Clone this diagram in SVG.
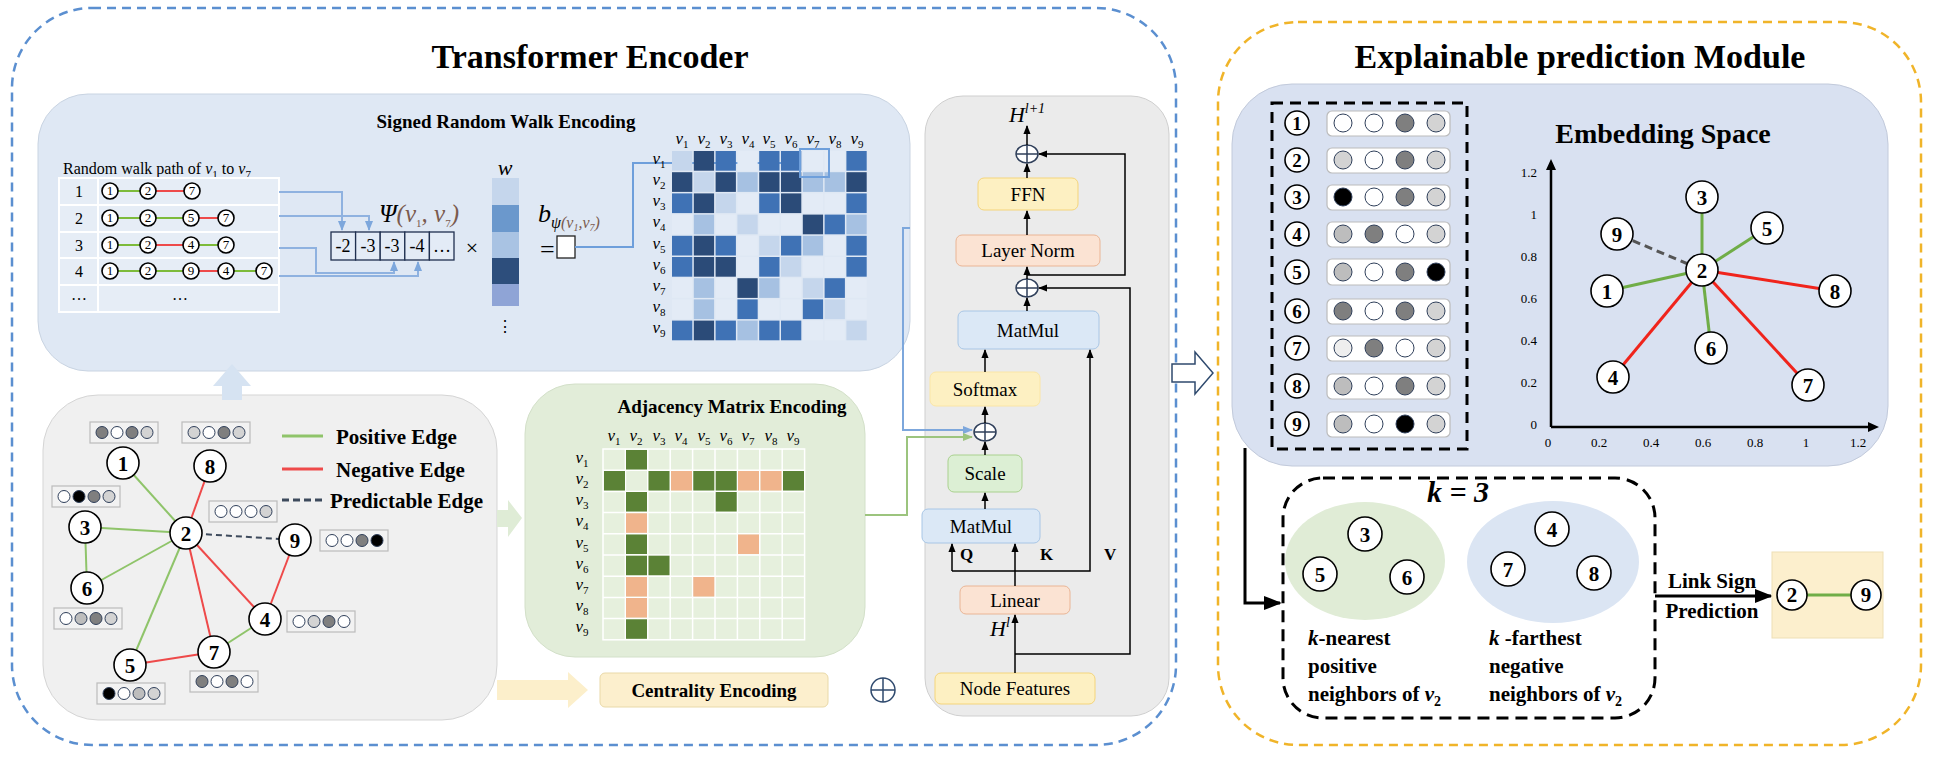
<svg xmlns="http://www.w3.org/2000/svg" width="1936" height="760" viewBox="0 0 1936 760">
<defs>
<marker id="ab" viewBox="0 0 10 10" refX="9" refY="5" markerWidth="6" markerHeight="6" orient="auto"><path d="M0,1 L10,5 L0,9 z" fill="#000"/></marker>
<marker id="abl" viewBox="0 0 10 10" refX="9" refY="5" markerWidth="5" markerHeight="5" orient="auto"><path d="M0,1 L10,5 L0,9 z" fill="#7da7dc"/></marker>
<marker id="agr" viewBox="0 0 10 10" refX="9" refY="5" markerWidth="5" markerHeight="5" orient="auto"><path d="M0,1 L10,5 L0,9 z" fill="#9cc47e"/></marker>
<style>
text{font-family:"Liberation Serif","Times New Roman",serif;fill:#000}
.t1{font-size:34px;font-weight:bold;text-anchor:middle}
.t2{font-size:19px;font-weight:bold;text-anchor:middle}
.b20{font-size:21px;font-weight:bold}
.m{font-size:19px;text-anchor:middle}
.v{font-size:17px;font-style:italic;text-anchor:middle;fill:#222}
.sub{font-size:11px;font-style:normal}
.nd{fill:#fff;stroke:#000;stroke-width:1.6}
.ndt{font-size:21px;font-weight:bold;text-anchor:middle}
.tn{font-size:13px;text-anchor:middle}
.g{stroke:#8fc46a;stroke-width:2}
.r{stroke:#ee4a4a;stroke-width:2}
.gt{stroke:#7dbb3a;stroke-width:2}
.fb{fill:#f2f2f2;stroke:#bbb;stroke-width:1.2}
.c{stroke:#2f3f5a;stroke-width:1}
.W{fill:#fff}.L{fill:#d3d3d3}.M{fill:#7f7f7f}.B{fill:#000}.E{fill:#eee}.L2{fill:#bdbdbd}
.s0{fill:#e3ebf6}.s1{fill:#c5d6ec}.s2{fill:#a6c1e2}.s3{fill:#3f72b5}.s4{fill:#2b4b78}
.a0{fill:#e6f0dd}.aG{fill:#5b8236}.aO{fill:#f0b48c}
.ax{font-family:"Liberation Sans",Arial,sans-serif;font-size:13px;fill:#999}
.blk{stroke:#000;stroke-width:1.5;fill:none}
</style>
</defs>

<!-- outer modules -->
<g id="transformer-encoder">
<rect x="12" y="8" width="1164" height="737" rx="80" fill="none" stroke="#5b8fd0" stroke-width="2.5" stroke-dasharray="9 6"/>
<text class="t1" x="590" y="68">Transformer Encoder</text>
</g>
<g id="explainable-module">
<rect x="1218" y="22" width="703" height="723" rx="80" fill="none" stroke="#f0b429" stroke-width="2.5" stroke-dasharray="9 6"/>
<text class="t1" x="1580" y="68">Explainable prediction Module</text>
</g>

<!-- Signed Random Walk Encoding -->
<g id="srw">
<rect x="38" y="94" width="872" height="277" rx="50" fill="#dfe8f4" stroke="#c9d4e2"/>
<text class="t2" x="506" y="128">Signed Random Walk Encoding</text>
<text x="63" y="174" font-size="16">Random walk path of <tspan font-style="italic">v</tspan><tspan class="sub" dy="4">1</tspan><tspan dy="-4"> to </tspan><tspan font-style="italic">v</tspan><tspan class="sub" dy="4">7</tspan></text>
<g fill="#e6edf6" stroke="#fff" stroke-width="2">
<rect x="59" y="178" width="39" height="27"/><rect x="98" y="178" width="181" height="27"/>
<rect x="59" y="205" width="39" height="27"/><rect x="98" y="205" width="181" height="27"/>
<rect x="59" y="232" width="39" height="26"/><rect x="98" y="232" width="181" height="26"/>
<rect x="59" y="258" width="39" height="27"/><rect x="98" y="258" width="181" height="27"/>
<rect x="59" y="285" width="39" height="27"/><rect x="98" y="285" width="181" height="27"/>
</g>
<g font-size="16" text-anchor="middle"><text x="79" y="197">1</text><text x="79" y="224">2</text><text x="79" y="251">3</text><text x="79" y="277">4</text><text x="79" y="300">…</text><text x="180" y="300">…</text></g>
<line class="gt" x1="110" y1="191" x2="148" y2="191"/><line class="r" x1="148" y1="191" x2="192" y2="191"/>
<line class="gt" x1="110" y1="218" x2="191" y2="218"/><line class="r" x1="191" y1="218" x2="226" y2="218"/>
<line class="gt" x1="110" y1="245" x2="148" y2="245"/><line class="r" x1="148" y1="245" x2="191" y2="245"/><line class="gt" x1="191" y1="245" x2="226" y2="245"/>
<line class="gt" x1="110" y1="271" x2="191" y2="271"/><line class="r" x1="191" y1="271" x2="226" y2="271"/><line class="gt" x1="226" y1="271" x2="264" y2="271"/>
<g class="nd" stroke-width="1.2">
<circle cx="110" cy="191" r="8"/><circle cx="148" cy="191" r="8"/><circle cx="192" cy="191" r="8"/>
<circle cx="110" cy="218" r="8"/><circle cx="148" cy="218" r="8"/><circle cx="191" cy="218" r="8"/><circle cx="226" cy="218" r="8"/>
<circle cx="110" cy="245" r="8"/><circle cx="148" cy="245" r="8"/><circle cx="191" cy="245" r="8"/><circle cx="226" cy="245" r="8"/>
<circle cx="110" cy="271" r="8"/><circle cx="148" cy="271" r="8"/><circle cx="191" cy="271" r="8"/><circle cx="226" cy="271" r="8"/><circle cx="264" cy="271" r="8"/>
</g>
<g class="tn">
<text x="110" y="195">1</text><text x="148" y="195">2</text><text x="192" y="195">7</text>
<text x="110" y="222">1</text><text x="148" y="222">2</text><text x="191" y="222">5</text><text x="226" y="222">7</text>
<text x="110" y="249">1</text><text x="148" y="249">2</text><text x="191" y="249">4</text><text x="226" y="249">7</text>
<text x="110" y="275">1</text><text x="148" y="275">2</text><text x="191" y="275">9</text><text x="226" y="275">4</text><text x="264" y="275">7</text>
</g>
<g fill="none" stroke="#8fb2e0" stroke-width="2">
<path d="M279 192 H342 V230" marker-end="url(#abl)"/>
<path d="M279 216 H369 V230" marker-end="url(#abl)"/>
<path d="M279 248 H316 V273 H394 V262" marker-end="url(#abl)"/>
<path d="M279 276 H418 V262" marker-end="url(#abl)"/>
</g>
<g fill="#e3ebf6" stroke="#1f2f4f" stroke-width="1.3">
<rect x="331" y="232" width="24.6" height="28"/><rect x="355.6" y="232" width="24.6" height="28"/><rect x="380.2" y="232" width="24.6" height="28"/><rect x="404.8" y="232" width="24.6" height="28"/><rect x="429.4" y="232" width="24.6" height="28"/>
</g>
<g font-size="18" text-anchor="middle"><text x="343" y="252">-2</text><text x="368" y="252">-3</text><text x="392" y="252">-3</text><text x="417" y="252">-4</text><text x="442" y="252">…</text></g>
<text x="419" y="222" font-size="25" font-style="italic" text-anchor="middle">Ψ<tspan fill="#7a5a4e">(v</tspan><tspan class="sub" fill="#7a5a4e" font-size="14" dy="5">1</tspan><tspan fill="#7a5a4e" dy="-5">, v</tspan><tspan class="sub" fill="#7a5a4e" font-size="14" dy="5">7</tspan><tspan fill="#7a5a4e" dy="-5">)</tspan></text>
<text x="472" y="255" font-size="22" text-anchor="middle" font-family="Liberation Sans,sans-serif">×</text>
<text x="505" y="175" font-size="22" font-style="italic" text-anchor="middle" fill="#333">w</text>
<rect x="492" y="178" width="27" height="27" fill="#c5d6ec"/>
<rect x="492" y="205" width="27" height="27" fill="#6b98cc"/>
<rect x="492" y="232" width="27" height="26" fill="#a9c3e3"/>
<rect x="492" y="258" width="27" height="26" fill="#2d4e7c"/>
<rect x="492" y="284" width="27" height="22" fill="#8fa4d6"/>
<text x="505" y="332" font-size="16" text-anchor="middle">⋮</text>
<text x="540" y="258" font-size="26">=</text>
<rect x="557" y="236" width="18" height="22" fill="#fff" stroke="#222" stroke-width="1.3"/>
<text x="538" y="222" font-size="26" font-style="italic">b<tspan font-size="16" dy="6">ψ</tspan><tspan font-size="16" fill="#7a5a4e">(v</tspan><tspan font-size="10" fill="#7a5a4e" dy="3">1</tspan><tspan font-size="16" fill="#7a5a4e" dy="-3">,v</tspan><tspan font-size="10" fill="#7a5a4e" dy="3">7</tspan><tspan font-size="16" fill="#7a5a4e" dy="-3">)</tspan></text>
<path d="M575 247 H633 V163 H796" fill="none" stroke="#6e9fdb" stroke-width="2" marker-end="url(#abl)"/>
<!-- matrix -->
<g>
<rect x="672" y="151" width="20.3" height="19.7" class="s1"/><rect x="693.8" y="151" width="20.3" height="19.7" class="s4"/><rect x="715.6" y="151" width="20.3" height="19.7" class="s3"/><rect x="737.4" y="151" width="20.3" height="19.7" class="s0"/><rect x="759.2" y="151" width="20.3" height="19.7" class="s3"/><rect x="781" y="151" width="20.3" height="19.7" class="s3"/><rect x="802.8" y="151" width="20.3" height="19.7" class="s0"/><rect x="824.6" y="151" width="20.3" height="19.7" class="s0"/><rect x="846.4" y="151" width="20.3" height="19.7" class="s3"/>
<rect x="672" y="172.2" width="20.3" height="19.7" class="s4"/><rect x="693.8" y="172.2" width="20.3" height="19.7" class="s1"/><rect x="715.6" y="172.2" width="20.3" height="19.7" class="s4"/><rect x="737.4" y="172.2" width="20.3" height="19.7" class="s2"/><rect x="759.2" y="172.2" width="20.3" height="19.7" class="s4"/><rect x="781" y="172.2" width="20.3" height="19.7" class="s4"/><rect x="802.8" y="172.2" width="20.3" height="19.7" class="s2"/><rect x="824.6" y="172.2" width="20.3" height="19.7" class="s2"/><rect x="846.4" y="172.2" width="20.3" height="19.7" class="s4"/>
<rect x="672" y="193.4" width="20.3" height="19.7" class="s3"/><rect x="693.8" y="193.4" width="20.3" height="19.7" class="s4"/><rect x="715.6" y="193.4" width="20.3" height="19.7" class="s1"/><rect x="737.4" y="193.4" width="20.3" height="19.7" class="s0"/><rect x="759.2" y="193.4" width="20.3" height="19.7" class="s3"/><rect x="781" y="193.4" width="20.3" height="19.7" class="s4"/><rect x="802.8" y="193.4" width="20.3" height="19.7" class="s0"/><rect x="824.6" y="193.4" width="20.3" height="19.7" class="s0"/><rect x="846.4" y="193.4" width="20.3" height="19.7" class="s3"/>
<rect x="672" y="214.6" width="20.3" height="19.7" class="s0"/><rect x="693.8" y="214.6" width="20.3" height="19.7" class="s2"/><rect x="715.6" y="214.6" width="20.3" height="19.7" class="s0"/><rect x="737.4" y="214.6" width="20.3" height="19.7" class="s1"/><rect x="759.2" y="214.6" width="20.3" height="19.7" class="s0"/><rect x="781" y="214.6" width="20.3" height="19.7" class="s0"/><rect x="802.8" y="214.6" width="20.3" height="19.7" class="s4"/><rect x="824.6" y="214.6" width="20.3" height="19.7" class="s3"/><rect x="846.4" y="214.6" width="20.3" height="19.7" class="s2"/>
<rect x="672" y="235.8" width="20.3" height="19.7" class="s3"/><rect x="693.8" y="235.8" width="20.3" height="19.7" class="s4"/><rect x="715.6" y="235.8" width="20.3" height="19.7" class="s3"/><rect x="737.4" y="235.8" width="20.3" height="19.7" class="s0"/><rect x="759.2" y="235.8" width="20.3" height="19.7" class="s1"/><rect x="781" y="235.8" width="20.3" height="19.7" class="s3"/><rect x="802.8" y="235.8" width="20.3" height="19.7" class="s2"/><rect x="824.6" y="235.8" width="20.3" height="19.7" class="s0"/><rect x="846.4" y="235.8" width="20.3" height="19.7" class="s3"/>
<rect x="672" y="257" width="20.3" height="19.7" class="s3"/><rect x="693.8" y="257" width="20.3" height="19.7" class="s4"/><rect x="715.6" y="257" width="20.3" height="19.7" class="s4"/><rect x="737.4" y="257" width="20.3" height="19.7" class="s0"/><rect x="759.2" y="257" width="20.3" height="19.7" class="s3"/><rect x="781" y="257" width="20.3" height="19.7" class="s1"/><rect x="802.8" y="257" width="20.3" height="19.7" class="s0"/><rect x="824.6" y="257" width="20.3" height="19.7" class="s0"/><rect x="846.4" y="257" width="20.3" height="19.7" class="s3"/>
<rect x="672" y="278.2" width="20.3" height="19.7" class="s0"/><rect x="693.8" y="278.2" width="20.3" height="19.7" class="s2"/><rect x="715.6" y="278.2" width="20.3" height="19.7" class="s0"/><rect x="737.4" y="278.2" width="20.3" height="19.7" class="s4"/><rect x="759.2" y="278.2" width="20.3" height="19.7" class="s2"/><rect x="781" y="278.2" width="20.3" height="19.7" class="s0"/><rect x="802.8" y="278.2" width="20.3" height="19.7" class="s1"/><rect x="824.6" y="278.2" width="20.3" height="19.7" class="s3"/><rect x="846.4" y="278.2" width="20.3" height="19.7" class="s0"/>
<rect x="672" y="299.4" width="20.3" height="19.7" class="s0"/><rect x="693.8" y="299.4" width="20.3" height="19.7" class="s2"/><rect x="715.6" y="299.4" width="20.3" height="19.7" class="s0"/><rect x="737.4" y="299.4" width="20.3" height="19.7" class="s3"/><rect x="759.2" y="299.4" width="20.3" height="19.7" class="s0"/><rect x="781" y="299.4" width="20.3" height="19.7" class="s0"/><rect x="802.8" y="299.4" width="20.3" height="19.7" class="s3"/><rect x="824.6" y="299.4" width="20.3" height="19.7" class="s1"/><rect x="846.4" y="299.4" width="20.3" height="19.7" class="s0"/>
<rect x="672" y="320.6" width="20.3" height="19.7" class="s3"/><rect x="693.8" y="320.6" width="20.3" height="19.7" class="s4"/><rect x="715.6" y="320.6" width="20.3" height="19.7" class="s3"/><rect x="737.4" y="320.6" width="20.3" height="19.7" class="s2"/><rect x="759.2" y="320.6" width="20.3" height="19.7" class="s3"/><rect x="781" y="320.6" width="20.3" height="19.7" class="s3"/><rect x="802.8" y="320.6" width="20.3" height="19.7" class="s0"/><rect x="824.6" y="320.6" width="20.3" height="19.7" class="s0"/><rect x="846.4" y="320.6" width="20.3" height="19.7" class="s1"/>
</g>
<rect x="800" y="149" width="29" height="28" fill="none" stroke="#6e9fdb" stroke-width="2"/>
<g class="v">
<text x="682" y="144">v<tspan class="sub" dy="4">1</tspan></text><text x="704" y="144">v<tspan class="sub" dy="4">2</tspan></text><text x="726" y="144">v<tspan class="sub" dy="4">3</tspan></text><text x="748" y="144">v<tspan class="sub" dy="4">4</tspan></text><text x="769" y="144">v<tspan class="sub" dy="4">5</tspan></text><text x="791" y="144">v<tspan class="sub" dy="4">6</tspan></text><text x="813" y="144">v<tspan class="sub" dy="4">7</tspan></text><text x="835" y="144">v<tspan class="sub" dy="4">8</tspan></text><text x="857" y="144">v<tspan class="sub" dy="4">9</tspan></text>
<text x="659" y="164">v<tspan class="sub" dy="4">1</tspan></text><text x="659" y="185">v<tspan class="sub" dy="4">2</tspan></text><text x="659" y="206">v<tspan class="sub" dy="4">3</tspan></text><text x="659" y="227">v<tspan class="sub" dy="4">4</tspan></text><text x="659" y="249">v<tspan class="sub" dy="4">5</tspan></text><text x="659" y="270">v<tspan class="sub" dy="4">6</tspan></text><text x="659" y="291">v<tspan class="sub" dy="4">7</tspan></text><text x="659" y="312">v<tspan class="sub" dy="4">8</tspan></text><text x="659" y="333">v<tspan class="sub" dy="4">9</tspan></text>
</g>
</g>

<!-- signed graph -->
<g id="graph">
<rect x="43" y="395" width="454" height="325" rx="55" fill="#f0f0f0" stroke="#d5d5d5"/>
<line class="g" x1="123" y1="463" x2="186" y2="533"/>
<line class="r" x1="210" y1="466" x2="186" y2="533"/>
<line class="g" x1="85" y1="527" x2="186" y2="533"/>
<line class="g" x1="85" y1="527" x2="87" y2="588"/>
<line class="g" x1="87" y1="588" x2="186" y2="533"/>
<line class="g" x1="130" y1="665" x2="186" y2="533"/>
<line class="r" x1="214" y1="652" x2="186" y2="533"/>
<line class="r" x1="265" y1="619" x2="186" y2="533"/>
<line class="r" x1="295" y1="540" x2="265" y2="619"/>
<line class="g" x1="265" y1="619" x2="214" y2="652"/>
<line class="r" x1="130" y1="665" x2="214" y2="652"/>
<line x1="186" y1="533" x2="295" y2="540" stroke="#3d4a5c" stroke-width="2" stroke-dasharray="6 4"/>
<g class="nd"><circle cx="123" cy="463" r="16"/><circle cx="210" cy="466" r="16"/><circle cx="85" cy="527" r="16"/><circle cx="186" cy="533" r="16"/><circle cx="295" cy="540" r="16"/><circle cx="87" cy="588" r="16"/><circle cx="265" cy="619" r="16"/><circle cx="214" cy="652" r="16"/><circle cx="130" cy="665" r="16"/></g>
<g class="ndt"><text x="123" y="471">1</text><text x="210" y="474">8</text><text x="85" y="535">3</text><text x="186" y="541">2</text><text x="295" y="548">9</text><text x="87" y="596">6</text><text x="265" y="627">4</text><text x="214" y="660">7</text><text x="130" y="673">5</text></g>
<!-- feature boxes -->
<g class="c">
<rect class="fb" x="90" y="422" width="68" height="21"/><circle class="M" cx="102" cy="432.5" r="6"/><circle class="W" cx="117" cy="432.5" r="6"/><circle class="M" cx="132" cy="432.5" r="6"/><circle class="L" cx="147" cy="432.5" r="6"/>
<rect class="fb" x="182" y="422" width="68" height="21"/><circle class="L" cx="194" cy="432.5" r="6"/><circle class="W" cx="209" cy="432.5" r="6"/><circle class="M" cx="224" cy="432.5" r="6"/><circle class="L" cx="239" cy="432.5" r="6"/>
<rect class="fb" x="52" y="486" width="68" height="21"/><circle class="W" cx="64" cy="496.5" r="6"/><circle class="B" cx="79" cy="496.5" r="6"/><circle class="M" cx="94" cy="496.5" r="6"/><circle class="L" cx="109" cy="496.5" r="6"/>
<rect class="fb" x="209" y="501" width="68" height="21"/><circle class="W" cx="221" cy="511.5" r="6"/><circle class="W" cx="236" cy="511.5" r="6"/><circle class="W" cx="251" cy="511.5" r="6"/><circle class="L" cx="266" cy="511.5" r="6"/>
<rect class="fb" x="320" y="530" width="68" height="21"/><circle class="W" cx="332" cy="540.5" r="6"/><circle class="W" cx="347" cy="540.5" r="6"/><circle class="M" cx="362" cy="540.5" r="6"/><circle class="B" cx="377" cy="540.5" r="6"/>
<rect class="fb" x="54" y="608" width="68" height="21"/><circle class="W" cx="66" cy="618.5" r="6"/><circle class="L2" cx="81" cy="618.5" r="6"/><circle class="M" cx="96" cy="618.5" r="6"/><circle class="L" cx="111" cy="618.5" r="6"/>
<rect class="fb" x="287" y="611" width="68" height="21"/><circle class="W" cx="299" cy="621.5" r="6"/><circle class="L" cx="314" cy="621.5" r="6"/><circle class="M" cx="329" cy="621.5" r="6"/><circle class="W" cx="344" cy="621.5" r="6"/>
<rect class="fb" x="190" y="671" width="68" height="21"/><circle class="M" cx="202" cy="681.5" r="6"/><circle class="W" cx="217" cy="681.5" r="6"/><circle class="M" cx="232" cy="681.5" r="6"/><circle class="W" cx="247" cy="681.5" r="6"/>
<rect class="fb" x="97" y="683" width="68" height="21"/><circle class="B" cx="109" cy="693.5" r="6"/><circle class="W" cx="124" cy="693.5" r="6"/><circle class="L2" cx="139" cy="693.5" r="6"/><circle class="L" cx="154" cy="693.5" r="6"/>
</g>
<!-- legend -->
<line x1="282" y1="436" x2="323" y2="436" stroke="#8fc46a" stroke-width="3"/>
<text class="b20" x="336" y="444">Positive Edge</text>
<line x1="282" y1="469" x2="323" y2="469" stroke="#ee4a4a" stroke-width="3"/>
<text class="b20" x="336" y="477">Negative Edge</text>
<line x1="282" y1="500" x2="323" y2="500" stroke="#3d4a5c" stroke-width="3" stroke-dasharray="7 4"/>
<text class="b20" x="330" y="508">Predictable Edge</text>
</g>

<!-- fat arrows -->
<g id="fat-arrows">
<path d="M222 400 V386 H213 L232 364 L251 386 H242 V400 Z" fill="#d6e3f2"/>
<path d="M497 510 H508 V500 L522 518 L508 537 V527 H497 Z" fill="#dfecd6"/>
<path d="M497 680 H568 V672 L588 690 L568 708 V700 H497 Z" fill="#fcefcb"/>
<path d="M1172 364 H1195 V352 L1213 373 L1195 394 V382 H1172 Z" fill="#fff" stroke="#2f4a6e" stroke-width="1.5"/>
</g>

<!-- adjacency -->
<g id="adjacency">
<rect x="525" y="384" width="340" height="273" rx="50" fill="#e2edd9" stroke="#d3e0c9"/>
<text class="t2" x="732" y="413">Adjacency Matrix Encoding</text>
<g fill="#e6f0dd" stroke="#fff" stroke-width="1.5">
<rect x="603" y="449" width="201.6" height="190.8"/>
</g>
<g stroke="#fff" stroke-width="1.5">
<line x1="625.4" y1="449" x2="625.4" y2="640"/><line x1="647.8" y1="449" x2="647.8" y2="640"/><line x1="670.2" y1="449" x2="670.2" y2="640"/><line x1="692.6" y1="449" x2="692.6" y2="640"/><line x1="715" y1="449" x2="715" y2="640"/><line x1="737.4" y1="449" x2="737.4" y2="640"/><line x1="759.8" y1="449" x2="759.8" y2="640"/><line x1="782.2" y1="449" x2="782.2" y2="640"/>
<line x1="603" y1="470.2" x2="805" y2="470.2"/><line x1="603" y1="491.4" x2="805" y2="491.4"/><line x1="603" y1="512.6" x2="805" y2="512.6"/><line x1="603" y1="533.8" x2="805" y2="533.8"/><line x1="603" y1="555" x2="805" y2="555"/><line x1="603" y1="576.2" x2="805" y2="576.2"/><line x1="603" y1="597.4" x2="805" y2="597.4"/><line x1="603" y1="618.6" x2="805" y2="618.6"/>
</g>
<g>
<rect class="aG" x="626" y="450" width="21" height="19.5"/>
<rect class="aG" x="604" y="471" width="21" height="19.5"/><rect class="aG" x="648.5" y="471" width="21" height="19.5"/><rect class="aO" x="671" y="471" width="21" height="19.5"/><rect class="aG" x="693.3" y="471" width="21" height="19.5"/><rect class="aG" x="715.7" y="471" width="21" height="19.5"/><rect class="aO" x="738" y="471" width="21" height="19.5"/><rect class="aO" x="760.5" y="471" width="21" height="19.5"/><rect class="aG" x="783" y="471" width="21" height="19.5"/>
<rect class="aG" x="626" y="492" width="21" height="19.5"/><rect class="aG" x="715.7" y="492" width="21" height="19.5"/>
<rect class="aO" x="626" y="513.3" width="21" height="19.5"/>
<rect class="aG" x="626" y="534.5" width="21" height="19.5"/><rect class="aO" x="738" y="534.5" width="21" height="19.5"/>
<rect class="aG" x="626" y="555.7" width="21" height="19.5"/><rect class="aG" x="648.5" y="555.7" width="21" height="19.5"/>
<rect class="aO" x="626" y="577" width="21" height="19.5"/><rect class="aO" x="693.3" y="577" width="21" height="19.5"/>
<rect class="aO" x="626" y="598" width="21" height="19.5"/>
<rect class="aG" x="626" y="619.3" width="21" height="19.5"/>
</g>
<g class="v">
<text x="614" y="441">v<tspan class="sub" dy="4">1</tspan></text><text x="636" y="441">v<tspan class="sub" dy="4">2</tspan></text><text x="659" y="441">v<tspan class="sub" dy="4">3</tspan></text><text x="681" y="441">v<tspan class="sub" dy="4">4</tspan></text><text x="704" y="441">v<tspan class="sub" dy="4">5</tspan></text><text x="726" y="441">v<tspan class="sub" dy="4">6</tspan></text><text x="748" y="441">v<tspan class="sub" dy="4">7</tspan></text><text x="771" y="441">v<tspan class="sub" dy="4">8</tspan></text><text x="793" y="441">v<tspan class="sub" dy="4">9</tspan></text>
<text x="582" y="463">v<tspan class="sub" dy="4">1</tspan></text><text x="582" y="484">v<tspan class="sub" dy="4">2</tspan></text><text x="582" y="505">v<tspan class="sub" dy="4">3</tspan></text><text x="582" y="526">v<tspan class="sub" dy="4">4</tspan></text><text x="582" y="548">v<tspan class="sub" dy="4">5</tspan></text><text x="582" y="569">v<tspan class="sub" dy="4">6</tspan></text><text x="582" y="590">v<tspan class="sub" dy="4">7</tspan></text><text x="582" y="611">v<tspan class="sub" dy="4">8</tspan></text><text x="582" y="632">v<tspan class="sub" dy="4">9</tspan></text>
</g>
</g>

<g id="centrality">
<rect x="600" y="673" width="228" height="34" rx="5" fill="#fcefcd" stroke="#e9d9a8"/>
<text class="t2" x="714" y="697">Centrality Encoding</text>
</g>
<g id="oplus-c"><circle cx="883" cy="690" r="12" fill="none" stroke="#2f4a6e" stroke-width="1.5"/><path d="M871 690 H895 M883 678 V702" stroke="#2f4a6e" stroke-width="1.5"/></g>

<!-- transformer layer -->
<g id="layer">
<rect x="925" y="96" width="244" height="620" rx="38" fill="#ebebeb" stroke="#cfcfcf"/>
<rect x="978" y="178" width="100" height="32" rx="6" fill="#fdf0c2" stroke="#f5d57a"/><text class="m" x="1028" y="201">FFN</text>
<rect x="956" y="235" width="144" height="31" rx="6" fill="#fbe3d3" stroke="#eab595"/><text class="m" x="1028" y="257">Layer Norm</text>
<rect x="958" y="311" width="141" height="38" rx="6" fill="#dbe8f6" stroke="#a8c6e6"/><text class="m" x="1028" y="337">MatMul</text>
<rect x="930" y="372" width="110" height="34" rx="6" fill="#fdf0c2" stroke="#fbe6a6"/><text class="m" x="985" y="396">Softmax</text>
<rect x="948" y="455" width="74" height="37" rx="6" fill="#dcefd4" stroke="#a9d18e"/><text class="m" x="985" y="480">Scale</text>
<rect x="922" y="509" width="118" height="34" rx="6" fill="#dbe8f6" stroke="#a8c6e6"/><text class="m" x="981" y="533">MatMul</text>
<rect x="960" y="586" width="110" height="28" rx="6" fill="#fbe3d3" stroke="#eab595"/><text class="m" x="1015" y="607">Linear</text>
<rect x="935" y="673" width="160" height="31" rx="6" fill="#fdf0c2" stroke="#f5d57a"/><text class="m" x="1015" y="695">Node Features</text>
<text x="1027" y="122" font-size="22" font-style="italic" text-anchor="middle">H<tspan font-size="14" dy="-9">l+1</tspan></text>
<text x="1000" y="636" font-size="22" font-style="italic" text-anchor="middle">H<tspan font-size="14" dy="-9">l</tspan></text>
<g font-size="17" font-weight="bold"><text x="960" y="560">Q</text><text x="1040" y="560">K</text><text x="1104" y="560">V</text></g>
<g fill="#fff" stroke="#2f3f5a" stroke-width="1.5">
<ellipse cx="1027" cy="154" rx="11" ry="9"/><ellipse cx="1027" cy="288" rx="11" ry="9"/><ellipse cx="985" cy="432" rx="11" ry="9"/>
</g>
<path d="M1016 154 H1038 M1027 145 V163 M1016 288 H1038 M1027 279 V297 M974 432 H996 M985 423 V441" stroke="#2f3f5a" stroke-width="1.5"/>
</g>
<g id="connectors" class="blk">
<path d="M1027 145 V126" marker-end="url(#ab)"/>
<path d="M1027 178 V164" marker-end="url(#ab)"/>
<path d="M1027 235 V211" marker-end="url(#ab)"/>
<path d="M1027 279 V267" marker-end="url(#ab)"/>
<path d="M1027 311 V298" marker-end="url(#ab)"/>
<path d="M985 372 V350" marker-end="url(#ab)"/>
<path d="M985 423 V407" marker-end="url(#ab)"/>
<path d="M985 455 V442" marker-end="url(#ab)"/>
<path d="M985 509 V493" marker-end="url(#ab)"/>
<path d="M1015 673 V615" marker-end="url(#ab)"/>
<path d="M1015 586 V544" marker-end="url(#ab)"/>
<path d="M952 571 V544" marker-end="url(#ab)"/>
<path d="M952 571 H1090 V350" marker-end="url(#ab)"/>
<path d="M1027 275 H1125 V154 H1039" marker-end="url(#ab)"/>
<path d="M1015 654 H1130 V288 H1039" marker-end="url(#ab)"/>
<path d="M910 228 H903 V430 H972" stroke="#7da7dc" stroke-width="2" marker-end="url(#abl)"/>
<path d="M865 515 H907 V437 H972" stroke="#9cc47e" stroke-width="2" marker-end="url(#agr)"/>
<path d="M1245 448 V603 H1280" stroke-width="3" marker-end="url(#ab)"/>
<path d="M1655 596 H1771" stroke-width="3" marker-end="url(#ab)"/>
</g>

<!-- embedding box -->
<g id="embedding">
<rect x="1232" y="84" width="656" height="382" rx="60" fill="#d9e1f1" stroke="#c2cadb"/>
<rect x="1272" y="103" width="195" height="346" fill="none" stroke="#000" stroke-width="3" stroke-dasharray="11 7"/>
<g class="nd" stroke-width="1.8"><circle cx="1297" cy="123" r="12"/><circle cx="1297" cy="160" r="12"/><circle cx="1297" cy="197" r="12"/><circle cx="1297" cy="234" r="12"/><circle cx="1297" cy="272" r="12"/><circle cx="1297" cy="311" r="12"/><circle cx="1297" cy="348" r="12"/><circle cx="1297" cy="386" r="12"/><circle cx="1297" cy="424" r="12"/></g>
<g font-size="19" font-weight="bold" text-anchor="middle"><text x="1297" y="130">1</text><text x="1297" y="167">2</text><text x="1297" y="204">3</text><text x="1297" y="241">4</text><text x="1297" y="279">5</text><text x="1297" y="318">6</text><text x="1297" y="355">7</text><text x="1297" y="393">8</text><text x="1297" y="431">9</text></g>
<g fill="#fff" stroke="#bbb" stroke-width="1.2">
<rect x="1327" y="111" width="123" height="25" rx="5"/><rect x="1327" y="148" width="123" height="25" rx="5"/><rect x="1327" y="185" width="123" height="25" rx="5"/><rect x="1327" y="222" width="123" height="25" rx="5"/><rect x="1327" y="259" width="123" height="26" rx="5"/><rect x="1327" y="299" width="123" height="25" rx="5"/><rect x="1327" y="336" width="123" height="25" rx="5"/><rect x="1327" y="374" width="123" height="25" rx="5"/><rect x="1327" y="412" width="123" height="25" rx="5"/>
</g>
<g class="c" stroke-width="1.2">
<circle class="W" cx="1343" cy="123" r="9"/><circle class="W" cx="1374" cy="123" r="9"/><circle class="M" cx="1405" cy="123" r="9"/><circle class="L" cx="1436" cy="123" r="9"/>
<circle class="L" cx="1343" cy="160" r="9"/><circle class="W" cx="1374" cy="160" r="9"/><circle class="M" cx="1405" cy="160" r="9"/><circle class="L" cx="1436" cy="160" r="9"/>
<circle class="B" cx="1343" cy="197" r="9"/><circle class="W" cx="1374" cy="197" r="9"/><circle class="M" cx="1405" cy="197" r="9"/><circle class="L" cx="1436" cy="197" r="9"/>
<circle class="L2" cx="1343" cy="234" r="9"/><circle class="M" cx="1374" cy="234" r="9"/><circle class="W" cx="1405" cy="234" r="9"/><circle class="L" cx="1436" cy="234" r="9"/>
<circle class="L2" cx="1343" cy="272" r="9"/><circle class="W" cx="1374" cy="272" r="9"/><circle class="M" cx="1405" cy="272" r="9"/><circle class="B" cx="1436" cy="272" r="9"/>
<circle class="M" cx="1343" cy="311" r="9"/><circle class="W" cx="1374" cy="311" r="9"/><circle class="M" cx="1405" cy="311" r="9"/><circle class="L" cx="1436" cy="311" r="9"/>
<circle class="E" cx="1343" cy="348" r="9"/><circle class="M" cx="1374" cy="348" r="9"/><circle class="W" cx="1405" cy="348" r="9"/><circle class="L" cx="1436" cy="348" r="9"/>
<circle class="L2" cx="1343" cy="386" r="9"/><circle class="W" cx="1374" cy="386" r="9"/><circle class="M" cx="1405" cy="386" r="9"/><circle class="L" cx="1436" cy="386" r="9"/>
<circle class="L2" cx="1343" cy="424" r="9"/><circle class="W" cx="1374" cy="424" r="9"/><circle class="B" cx="1405" cy="424" r="9"/><circle class="L" cx="1436" cy="424" r="9"/>
</g>
<text x="1663" y="143" font-size="28" font-weight="bold" text-anchor="middle">Embedding Space</text>
<path d="M1551 427 V168 M1551 427 H1870" stroke="#000" stroke-width="2.5" fill="none"/>
<path d="M1546 170 L1551 159 L1556 170 Z M1868 422 L1879 427 L1868 432 Z" fill="#000"/>
<g class="ax" text-anchor="end"><text x="1537" y="177">1.2</text><text x="1537" y="219">1</text><text x="1537" y="261">0.8</text><text x="1537" y="303">0.6</text><text x="1537" y="345">0.4</text><text x="1537" y="387">0.2</text><text x="1537" y="429">0</text></g>
<g class="ax" text-anchor="middle"><text x="1548" y="447">0</text><text x="1599" y="447">0.2</text><text x="1651" y="447">0.4</text><text x="1703" y="447">0.6</text><text x="1755" y="447">0.8</text><text x="1806" y="447">1</text><text x="1858" y="447">1.2</text></g>
<g stroke-width="3">
<line x1="1702" y1="270" x2="1702" y2="197" stroke="#70ad47"/>
<line x1="1702" y1="270" x2="1767" y2="228" stroke="#70ad47"/>
<line x1="1702" y1="270" x2="1607" y2="291" stroke="#70ad47"/>
<line x1="1702" y1="270" x2="1711" y2="348" stroke="#70ad47"/>
<line x1="1702" y1="270" x2="1613" y2="377" stroke="#f0241c"/>
<line x1="1702" y1="270" x2="1835" y2="291" stroke="#f0241c"/>
<line x1="1702" y1="270" x2="1808" y2="385" stroke="#f0241c"/>
<line x1="1688" y1="264" x2="1617" y2="234" stroke="#555" stroke-dasharray="8 5"/>
</g>
<g class="nd" stroke-width="2"><circle cx="1702" cy="197" r="16"/><circle cx="1617" cy="234" r="16"/><circle cx="1767" cy="228" r="16"/><circle cx="1702" cy="270" r="16"/><circle cx="1607" cy="291" r="16"/><circle cx="1835" cy="291" r="16"/><circle cx="1711" cy="348" r="16"/><circle cx="1613" cy="377" r="16"/><circle cx="1808" cy="385" r="16"/></g>
<g class="ndt"><text x="1702" y="205">3</text><text x="1617" y="242">9</text><text x="1767" y="236">5</text><text x="1702" y="278">2</text><text x="1607" y="299">1</text><text x="1835" y="299">8</text><text x="1711" y="356">6</text><text x="1613" y="385">4</text><text x="1808" y="393">7</text></g>
</g>

<!-- k neighbors -->
<g id="k-neighbors">
<rect x="1283" y="478" width="372" height="240" rx="40" fill="none" stroke="#000" stroke-width="3" stroke-dasharray="12 7"/>
<text x="1458" y="502" font-size="30" font-weight="bold" font-style="italic" text-anchor="middle">k = 3</text>
<ellipse cx="1365" cy="561" rx="80" ry="59" fill="#e0ecd6"/>
<ellipse cx="1553" cy="562" rx="86" ry="61" fill="#dbe5f3"/>
<g class="nd"><circle cx="1365" cy="534" r="17"/><circle cx="1320" cy="574" r="17"/><circle cx="1407" cy="577" r="17"/><circle cx="1552" cy="529" r="17"/><circle cx="1508" cy="569" r="17"/><circle cx="1594" cy="573" r="17"/></g>
<g class="ndt"><text x="1365" y="542">3</text><text x="1320" y="582">5</text><text x="1407" y="585">6</text><text x="1552" y="537">4</text><text x="1508" y="577">7</text><text x="1594" y="581">8</text></g>
<g class="b20">
<text x="1308" y="645"><tspan font-style="italic">k</tspan>-nearest</text>
<text x="1308" y="673">positive</text>
<text x="1308" y="701">neighbors of <tspan font-style="italic">v</tspan><tspan font-size="14" dy="5">2</tspan></text>
<text x="1489" y="645"><tspan font-style="italic">k</tspan> -farthest</text>
<text x="1489" y="673">negative</text>
<text x="1489" y="701">neighbors of <tspan font-style="italic">v</tspan><tspan font-size="14" dy="5">2</tspan></text>
</g>
</g>

<g id="prediction">
<text class="b20" x="1712" y="588" text-anchor="middle">Link Sign</text>
<text class="b20" x="1712" y="618" text-anchor="middle">Prediction</text>
<rect x="1772" y="552" width="111" height="86" fill="#fcefcd" stroke="#eedfb5"/>
<line x1="1792" y1="595" x2="1866" y2="595" stroke="#70ad47" stroke-width="3"/>
<circle class="nd" cx="1792" cy="595" r="15"/><circle class="nd" cx="1866" cy="595" r="15"/>
<text class="ndt" x="1792" y="602">2</text><text class="ndt" x="1866" y="602">9</text>
</g>
</svg>
